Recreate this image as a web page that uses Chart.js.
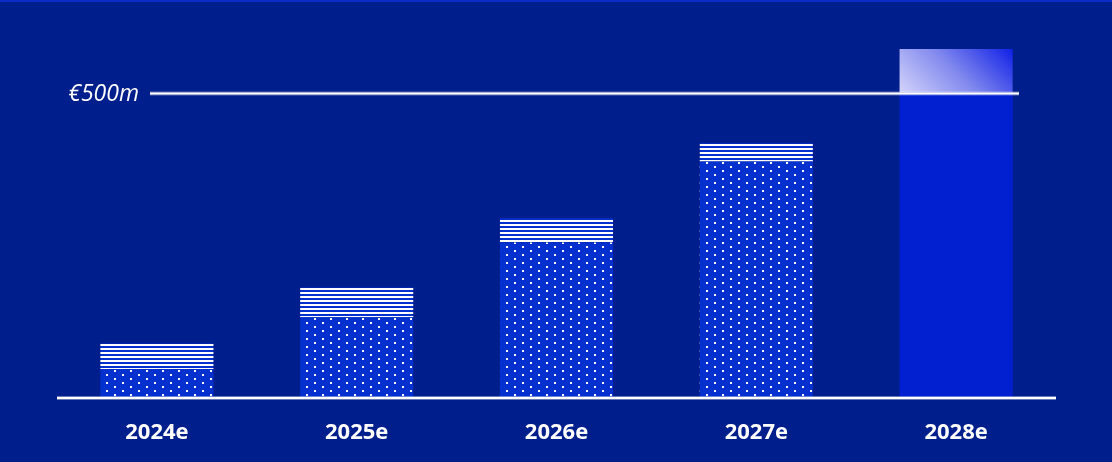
<!DOCTYPE html>
<html>
<head>
<meta charset="utf-8">
<script src="https://cdn.jsdelivr.net/npm/chart.js@4/dist/chart.umd.min.js"></script>
<style>
  html, body { margin: 0; padding: 0; background: #001e8c; }
  #wrap { width: 1112px; height: 462px; position: relative; }
</style>
</head>
<body>
<div id="wrap"><canvas id="c" width="1112" height="462"></canvas></div>
<script>
// ---- data ----
const categories = ['2024e', '2025e', '2026e', '2027e', '2028e'];
const baseValues   = [46, 131, 254, 387, null];   // dotted part
const upsideValues = [42, 49, 40, 30, null];      // striped part
const targetValues = [null, null, null, null, 500]; // solid 2028 bar
const stretchValues = [null, null, null, null, 72]; // gradient top of 2028 bar
const refValue = 500;
const refLabel = '€500m';

// ---- patterns ----
function makeDots() {
  const c = document.createElement('canvas');
  c.width = 16; c.height = 8;
  const g = c.getContext('2d');
  g.fillStyle = '#0530d0';
  g.fillRect(0, 0, 16, 8);
  g.fillStyle = '#ffffff';
  g.fillRect(10, 6, 2, 2);
  g.fillRect(2, 2, 2, 2);
  return c;
}
function makeStripes() {
  const c = document.createElement('canvas');
  c.width = 4; c.height = 4;
  const g = c.getContext('2d');
  g.fillStyle = '#0530d0';
  g.fillRect(0, 0, 4, 4);
  g.fillStyle = '#ffffff';
  g.fillRect(0, 0, 4, 2);
  return c;
}
const ctx = document.getElementById('c').getContext('2d');
const dotPattern = ctx.createPattern(makeDots(), 'repeat');
const stripePattern = ctx.createPattern(makeStripes(), 'repeat');

function gradientFill(context) {
  const chart = context.chart;
  const xs = chart.scales.x, ys = chart.scales.y;
  if (!chart.chartArea || !xs || !ys) return '#6f78ea';
  const i = context.dataIndex;
  const cx = xs.getPixelForValue(i);
  const top = ys.getPixelForValue(refValue + (stretchValues[i] || 0));
  const bot = ys.getPixelForValue(refValue);
  const w = 113, h = bot - top;
  const x0 = cx - w / 2;
  const d = (w + h) / 2;
  const g = chart.ctx.createLinearGradient(x0, bot, x0 + d, bot - d);
  g.addColorStop(0, '#d4d4fa');
  g.addColorStop(0.5, '#8088ee');
  g.addColorStop(1, '#1020e6');
  return g;
}

const decor = {
  id: 'decor',
  beforeDraw(chart) {
    const c = chart.ctx;
    c.save();
    c.fillStyle = '#001e8c';
    c.fillRect(0, 0, chart.width, chart.height);
    c.fillStyle = '#0a2ccb';
    c.fillRect(0, 0, chart.width, 2);
    c.restore();
  },
  afterDatasetsDraw(chart) {
    const c = chart.ctx;
    const ys = chart.scales.y;
    const area = chart.chartArea;
    const y = Math.round(ys.getPixelForValue(refValue)) + 0.5;
    c.save();
    // reference line
    c.strokeStyle = 'rgba(255,255,255,0.35)';
    c.lineWidth = 4;
    c.beginPath(); c.moveTo(150, y); c.lineTo(1019, y); c.stroke();
    c.strokeStyle = '#ffffff';
    c.lineWidth = 2;
    c.beginPath(); c.moveTo(150, y); c.lineTo(1019, y); c.stroke();
    // label
    c.fillStyle = '#ffffff';
    c.font = 'italic 23px "Open Sans"';
    c.textAlign = 'right';
    c.textBaseline = 'middle';
    c.fillText(refLabel, 139, y + 1);
    // baseline
    const b = Math.round(ys.getPixelForValue(0)) + 0.5;
    c.strokeStyle = 'rgba(255,255,255,0.4)';
    c.lineWidth = 4;
    c.beginPath(); c.moveTo(area.left, b + 0.5); c.lineTo(area.right, b + 0.5); c.stroke();
    c.strokeStyle = '#ffffff';
    c.lineWidth = 2;
    c.beginPath(); c.moveTo(area.left, b + 0.5); c.lineTo(area.right, b + 0.5); c.stroke();
    c.restore();
  }
};

new Chart(ctx, {
  type: 'bar',
  data: {
    labels: categories,
    datasets: [
      { label: 'base', data: baseValues, backgroundColor: dotPattern },
      { label: 'upside', data: upsideValues, backgroundColor: stripePattern },
      { label: 'target', data: targetValues, backgroundColor: '#0220d0' },
      { label: 'stretch', data: stretchValues, backgroundColor: gradientFill }
    ]
  },
  options: {
    responsive: false,
    animation: false,
    layout: { padding: { left: 57, right: 56, top: 32, bottom: 0 } },
    datasets: { bar: { categoryPercentage: 1, barPercentage: 0.566, borderWidth: 0 } },
    plugins: { legend: { display: false }, tooltip: { enabled: false } },
    scales: {
      x: {
        stacked: true,
        grid: { display: false },
        border: { display: false },
        ticks: {
          color: '#ffffff',
          font: { family: '"Open Sans"', size: 22, weight: 'bold' },
          padding: 15,
          maxRotation: 0
        },
        afterFit(scale) { scale.height = 65; }
      },
      y: {
        stacked: true,
        display: false,
        min: 0,
        max: 600
      }
    }
  },
  plugins: [decor]
});
</script>
</body>
</html>
